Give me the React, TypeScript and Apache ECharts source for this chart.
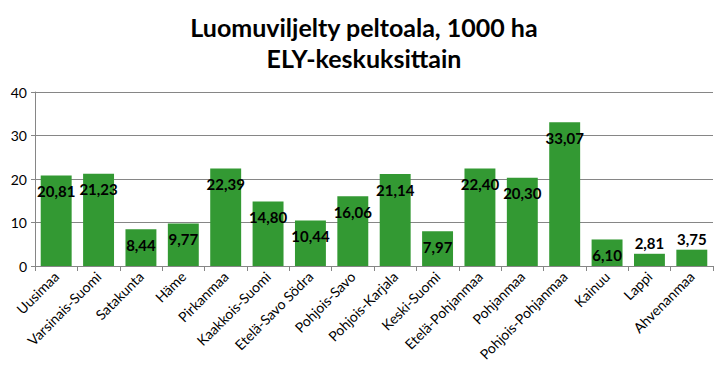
import React, { useEffect, useRef } from "react";
import * as echarts from "echarts";

const categories = [
  "Uusimaa",
  "Varsinais-Suomi",
  "Satakunta",
  "Häme",
  "Pirkanmaa",
  "Kaakkois-Suomi",
  "Etelä-Savo Södra",
  "Pohjois-Savo",
  "Pohjois-Karjala",
  "Keski-Suomi",
  "Etelä-Pohjanmaa",
  "Pohjanmaa",
  "Pohjois-Pohjanmaa",
  "Kainuu",
  "Lappi",
  "Ahvenanmaa",
];
const values = [20.81, 21.23, 8.44, 9.77, 22.39, 14.8, 10.44, 16.06, 21.14, 7.97, 22.4, 20.3, 33.07, 6.1, 2.81, 3.75];
const yTicks = { min: 0, max: 40, interval: 10 };
const titleLines = ["Luomuviljelty peltoala, 1000 ha", "ELY-keskuksittain"];

const FONT = "Lato, 'Open Sans', sans-serif";

export default function App() {
  const ref = useRef<HTMLDivElement>(null);
  useEffect(() => {
    if (!ref.current) return;
    const chart = echarts.init(ref.current, null, { renderer: "svg" });
    chart.setOption({
      animation: false,
      backgroundColor: "#fff",
      title: {
        text: titleLines.join("\n"),
        left: "center",
        top: 6,
        textStyle: { fontFamily: FONT, fontWeight: "bold", fontSize: 25, color: "#000", lineHeight: 31 },
      },
      grid: { left: 35, right: 15, top: 92, bottom: 103, containLabel: false },
      xAxis: {
        type: "category",
        data: categories,
        axisLine: { lineStyle: { color: "#868686" } },
        axisTick: { show: true, alignWithLabel: false, length: 5, lineStyle: { color: "#868686" } },
        axisLabel: { rotate: 45, fontFamily: FONT, fontSize: 14, color: "#000", interval: 0, margin: 8 },
      },
      yAxis: {
        type: "value",
        min: yTicks.min,
        max: yTicks.max,
        interval: yTicks.interval,
        axisLine: { show: true, lineStyle: { color: "#868686" } },
        axisTick: { show: true, length: 4, lineStyle: { color: "#868686" } },
        splitLine: { lineStyle: { color: "#868686" } },
        axisLabel: { fontFamily: FONT, fontSize: 14, color: "#000", margin: 8 },
      },
      series: [
        {
          type: "bar",
          data: values.map((v) => ({
            value: v,
            label: v < 5 ? { position: "top", distance: 3 } : { position: "insideTop", distance: 8 },
          })),
          barCategoryGap: "27%",
          itemStyle: { color: "#339933" },
          label: {
            show: true,
            fontFamily: FONT,
            fontWeight: "bold",
            fontSize: 15,
            color: "#000",
            formatter: (p: any) => p.value.toFixed(2).replace(".", ","),
          },
        },
      ],
    });
    return () => chart.dispose();
  }, []);
  return <div ref={ref} style={{ position: "fixed", left: 0, top: 0, width: 728, height: 369 }} />;
}
